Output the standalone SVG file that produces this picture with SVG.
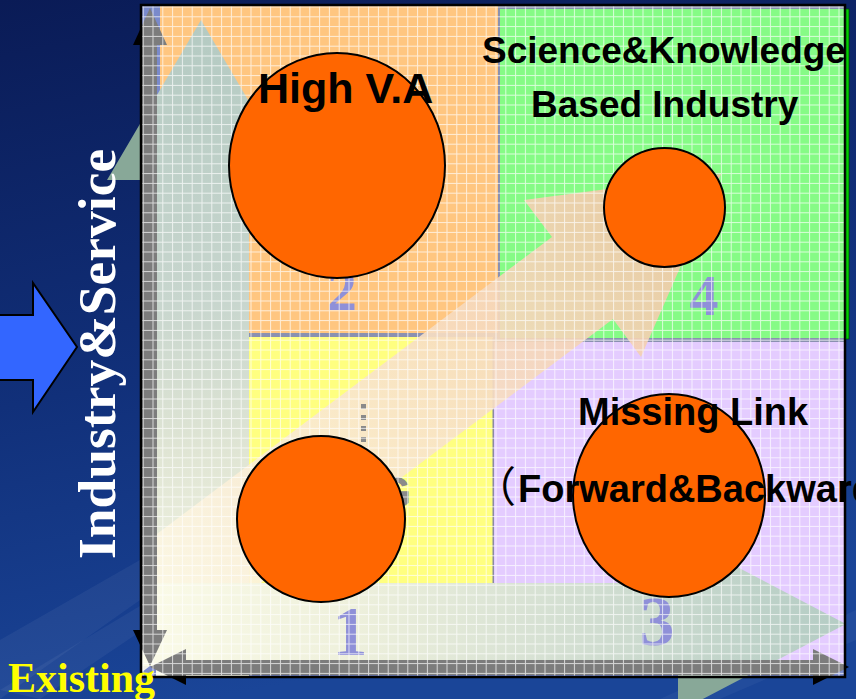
<svg xmlns="http://www.w3.org/2000/svg" width="856" height="699" viewBox="0 0 856 699">
  <defs>
    <linearGradient id="bg" x1="0" y1="0" x2="0.25" y2="1">
      <stop offset="0" stop-color="#0a1b56"/>
      <stop offset="0.55" stop-color="#11307a"/>
      <stop offset="1" stop-color="#1a4598"/>
    </linearGradient>
    <linearGradient id="gVert" gradientUnits="userSpaceOnUse" x1="0" y1="20" x2="0" y2="677">
      <stop offset="0" stop-color="#b4cac2"/>
      <stop offset="0.43" stop-color="#c8d6ce"/>
      <stop offset="0.66" stop-color="#e0e5d4"/>
      <stop offset="1" stop-color="#fafae8"/>
    </linearGradient>
    <linearGradient id="gHorz" gradientUnits="userSpaceOnUse" x1="141" y1="0" x2="846" y2="0">
      <stop offset="0" stop-color="#fbfbe8"/>
      <stop offset="0.3" stop-color="#eef0dc"/>
      <stop offset="0.55" stop-color="#d8e2d4"/>
      <stop offset="1" stop-color="#b4ccc4"/>
    </linearGradient>
    <linearGradient id="gDiag" gradientUnits="userSpaceOnUse" x1="152" y1="664" x2="720" y2="174">
      <stop offset="0" stop-color="#fdfbe8"/>
      <stop offset="0.5" stop-color="#f8e2c8"/>
      <stop offset="1" stop-color="#f0c2a0"/>
    </linearGradient>
    <pattern id="grid" patternUnits="userSpaceOnUse" x="142.7" y="6.5" width="9.8" height="9.8">
      <path d="M0 0.5 H9.8 M0.5 0 V9.8" stroke="#ffffff" stroke-width="1" stroke-opacity="0.7" fill="none"/>
    </pattern>
    <clipPath id="panelClip">
      <rect x="141" y="5" width="704" height="672"/>
    </clipPath>
    <path id="axisV" d="M150,8 L167,45 L157,45 L157,630 L167,630 L150,666 L133,630 L142,630 L142,45 L133,45 Z"/>
    <path id="axisH" d="M150,667 L186,649 L186,660 L813,660 L813,649 L849,667 L813,685 L813,675 L186,675 L186,685 Z"/>
    <polygon id="arrowV" points="201,20 295,180 249,180 249,677 156,677 156,180 107,180"/>
    <polygon id="arrowH" points="846,624 678,712 678,666 141,666 141,583 678,583 678,536"/>
    <polygon id="arrowD" points="721,174 641,357 613,319 134,678 73,597 552,237 524,200"/>
  </defs>
  <style>
    .lbl { font-family: "Liberation Sans", Arial, sans-serif; font-weight: bold; fill: #000000; }
    .num { font-family: "Liberation Serif", "Times New Roman", serif; font-weight: bold; fill: #8f90d8; text-anchor: middle; }
    .ser { font-family: "Liberation Serif", "Times New Roman", serif; font-weight: bold; }
    .node { fill: #ff6600; stroke: #000000; stroke-width: 2; }
    .quad-edge { fill: #8a91b0; }
  </style>

  <!-- background -->
  <g id="background">
    <rect x="0" y="0" width="856" height="699" fill="url(#bg)"/>
    <polygon points="0,640 140,560 140,600 0,699" fill="#ffffff" opacity="0.05"/>
    <polygon points="0,690 150,600 150,625 40,699" fill="#ffffff" opacity="0.05"/>
    <polygon points="660,699 856,610 856,640 720,699" fill="#ffffff" opacity="0.04"/>
  </g>

  <!-- left input arrow -->
  <g id="input-arrow">
    <polygon points="-5,315 33,315 33,283 77,347 33,412 33,380 -5,380" fill="#3366ff" stroke="#000000" stroke-width="2"/>
  </g>

  <!-- connectors: big arrows and axes -->
  <g id="connectors">
    <g id="outside-arrows" fill="#88a898">
      <use href="#arrowV"/>
      <use href="#arrowH"/>
    </g>
    <g id="axes" fill="#000000">
      <use href="#axisV"/>
      <use href="#axisH"/>
    </g>
  </g>

  <!-- panel -->
  <g id="panel" clip-path="url(#panelClip)">
    <rect x="141" y="5" width="704" height="672" fill="#7a8acb"/>
    <g id="quadrant-2"><rect x="160" y="5" width="338" height="330" fill="#ffc680"/></g>
    <g id="quadrant-4">
      <rect x="498" y="5" width="350" height="335" fill="#86fb86"/>
      <rect class="quad-edge" x="498" y="5" width="350" height="4"/>
      <rect class="quad-edge" x="498" y="5" width="2" height="335"/>
    </g>
    <g id="quadrant-1">
      <rect x="249" y="333" width="244" height="260" fill="#ffff80"/>
      <rect class="quad-edge" x="249" y="333" width="249" height="4"/>
    </g>
    <g id="quadrant-3">
      <rect x="493" y="338" width="355" height="330" fill="#e4ccff"/>
      <rect class="quad-edge" x="493" y="338" width="355" height="4"/>
      <rect x="492.5" y="338" width="1.5" height="255" fill="#8a8aa4"/>
    </g>
    <g id="big-arrows">
      <use href="#arrowV" fill="url(#gVert)"/>
      <use href="#arrowD" fill="url(#gDiag)" opacity="0.92"/>
      <use href="#arrowH" fill="url(#gHorz)"/>
    </g>
    <g id="quadrant-numbers">
      <text class="num" x="342" y="310" font-size="60">2</text>
      <text class="num" x="704" y="315" font-size="58">4</text>
      <text class="num" x="350" y="655" font-size="70">1</text>
      <text class="num" x="657" y="645" font-size="70">3</text>
    </g>
    <g id="gray-mark" fill="#8a8a8a">
      <rect x="361" y="404" width="5" height="5"/>
      <rect x="361" y="415" width="5" height="5"/>
      <rect x="361" y="426" width="5" height="5"/>
      <rect x="361" y="437" width="5" height="5"/>
      <text x="377" y="508" font-family="Liberation Sans, Arial, sans-serif" font-weight="bold" font-size="44" fill="#8a8a8a">G</text>
    </g>
    <g id="axes-inside" fill="#7c7c7c">
      <use href="#axisV"/>
      <use href="#axisH"/>
    </g>
    <rect x="141" y="5" width="704" height="672" fill="url(#grid)"/>
  </g>
  <rect x="141" y="5" width="704" height="672" fill="none" stroke="#000000" stroke-width="2.5"/>
  <rect x="846" y="9" width="3" height="330" fill="#00d000" stroke="#004400" stroke-width="0.7"/>

  <!-- nodes -->
  <g id="node-high-va">
    <ellipse class="node" cx="337" cy="165.5" rx="108" ry="112.5"/>
    <text class="lbl" x="258" y="103" font-size="43">High V.A</text>
  </g>
  <g id="node-science">
    <ellipse class="node" cx="664.5" cy="207.5" rx="60.5" ry="59.5"/>
    <text class="lbl" x="482" y="63" font-size="37">Science&amp;Knowledge</text>
    <text class="lbl" x="531" y="117" font-size="37">Based Industry</text>
  </g>
  <g id="node-q1">
    <ellipse class="node" cx="321" cy="519" rx="84" ry="83"/>
  </g>
  <g id="node-missing-link">
    <ellipse class="node" cx="669" cy="495.5" rx="96" ry="101.5"/>
    <text class="lbl" x="578" y="425" font-size="38">Missing Link</text>
    <text class="lbl" x="474" y="502" font-size="38"><tspan font-family="Noto Sans CJK SC, sans-serif" font-weight="normal" font-size="42">（</tspan><tspan x="518">Forward&amp;Backward</tspan></text>
  </g>

  <!-- axis labels -->
  <g id="axis-labels">
    <text class="ser" transform="translate(115,559) rotate(-90)" font-size="53.5" fill="#ffffff">Industry&amp;Service</text>
    <text class="ser" x="8" y="692" font-size="42" fill="#ffff00">Existing</text>
  </g>
</svg>
